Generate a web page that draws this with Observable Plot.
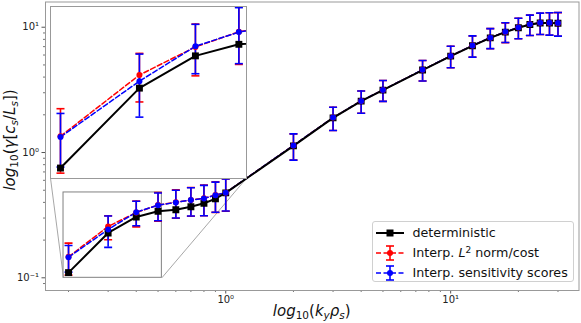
<!DOCTYPE html>
<html>
<head>
<meta charset="utf-8">
<script src="https://cdn.jsdelivr.net/npm/d3@7"></script>
<script src="https://cdn.jsdelivr.net/npm/@observablehq/plot@0.6"></script>
<style>
  body { margin: 0; background: #fff; }
  #wrap { position: relative; width: 581px; height: 323px; font-family: "DejaVu Sans", sans-serif; color: #111; }
  #main, #inset { position: absolute; }
  #main { left: 0; top: 0; }
  .lab { position: absolute; font-size: 15px; white-space: nowrap; line-height: 1.2; }
  .lab sub { font-size: 10.5px; vertical-align: -0.3em; line-height: 0; }
  .lab i { font-style: italic; }
  #legend { position: absolute; left: 371.5px; top: 221px; width: 202px; height: 61px; box-sizing: border-box;
            border: 1px solid #d0d0d0; border-radius: 3px; background: rgba(255,255,255,0.8); font-size: 12.7px; }
  .row { position: absolute; left: 0; height: 20px; display: flex; align-items: center; }
  .row svg { margin-left: 3px; margin-right: 9px; }
  .row sup { font-size: 9px; vertical-align: 0.45em; line-height: 0; }
</style>
</head>
<body>
<div id="wrap">
  <div id="main"></div>
  <div id="inset"></div>
  <div class="lab" id="xlab"><i>log</i><sub>10</sub>(<i>k</i><sub><i>y</i></sub><i>ρ</i><sub><i>s</i></sub>)</div>
  <div class="lab" id="ylab"><i>log</i><sub>10</sub>(<i>γ</i>[<i>c</i><sub><i>s</i></sub>/<i>L</i><sub><i>s</i></sub>])</div>
  <div id="legend"></div>
</div>
<script>
// ---------------- data ----------------
const kx = [0.2, 0.3, 0.4, 0.5, 0.6, 0.7, 0.8, 0.9, 1.0, 2, 3, 4, 5, 7.5, 10, 12.5, 15, 17.5, 20, 22.5, 25, 27.5, 30];
const detY = [0.11, 0.228, 0.306, 0.34, 0.349, 0.369, 0.393, 0.428, 0.476, 1.13, 1.89, 2.57, 3.15, 4.55, 5.88, 7.11, 8.22, 9.14, 9.9, 10.5, 10.8, 10.8, 10.75];
const l2Y = [0.147, 0.257, 0.332, 0.381, 0.401, 0.418, 0.431, 0.458, 0.478, 1.14, 1.9, 2.58, 3.16, 4.57, 5.9, 7.14, 8.24, 9.18, 9.94, 10.54, 10.84, 10.84, 10.78];
const l2Err = [0.042, 0.056, 0.077, 0.098, 0.102, 0.108, 0.118, 0.125, 0.138, 0.27, 0.4, 0.52, 0.6, 0.85, 1.15, 1.38, 1.5, 1.65, 1.85, 1.95, 2.1, 2.2, 2.3];
const sensY = [0.146, 0.243, 0.334, 0.38, 0.40, 0.417, 0.43, 0.457, 0.478, 1.14, 1.9, 2.58, 3.16, 4.57, 5.9, 7.15, 8.25, 9.2, 9.95, 10.55, 10.85, 10.85, 10.8];
const sensErr = [0.035, 0.068, 0.074, 0.095, 0.10, 0.106, 0.117, 0.123, 0.137, 0.27, 0.4, 0.52, 0.6, 0.85, 1.15, 1.38, 1.5, 1.65, 1.85, 1.95, 2.1, 2.2, 2.3];
const seriesNames = ["deterministic", "Interp. L² norm/cost", "Interp. sensitivity scores"];

// axis limits and ticks
const xLim = [0.158, 37.2];
const yLim = [0.0792, 15.9];
const insetXLim = [0.19, 0.52];
const insetYLim = [0.1, 0.48];
const xMajor = [1, 10];
const xMinor = [0.2, 0.3, 0.4, 0.5, 0.6, 0.7, 0.8, 0.9, 2, 3, 4, 5, 6, 7, 8, 9, 20, 30];
const yMajor = [0.1, 1, 10];
const yMinor = [0.09, 0.2, 0.3, 0.4, 0.5, 0.6, 0.7, 0.8, 0.9, 2, 3, 4, 5, 6, 7, 8, 9];

// ---------------- layout ----------------
const W = 581, H = 323;
const M = {left: 45, right: 2.5, top: 1.5, bottom: 33};
const INSET = {left: 50, top: 5.7, width: 196, height: 172};

const det = kx.map((x, i) => ({x, y: detY[i]}));
const l2 = kx.map((x, i) => ({x, y: l2Y[i], e: l2Err[i]}));
const sens = kx.map((x, i) => ({x, y: sensY[i], e: sensErr[i]}));

const sup = {"-1": "⁻¹", "0": "⁰", "1": "¹"};
const fmt = d => "10" + sup[String(Math.round(Math.log10(d)))];

const capSymbol = {
  draw(ctx, size) {
    const w = Math.sqrt(size / Math.PI);
    ctx.moveTo(-w, 0);
    ctx.lineTo(w, 0);
  }
};

const RED = "#ff0000", BLUE = "#0000ff";

function dataMarks(opts) {
  const c = opts || {};
  const bars = (data, color) => [
    Plot.ruleX(data, {x: "x", y1: d => d.y - d.e, y2: d => d.y + d.e, stroke: color, strokeWidth: 1.6, ...c}),
    Plot.dot(data, {x: "x", y: d => d.y + d.e, symbol: capSymbol, r: 4, fill: "none", stroke: color, strokeWidth: 1.6, ...c}),
    Plot.dot(data, {x: "x", y: d => d.y - d.e, symbol: capSymbol, r: 4, fill: "none", stroke: color, strokeWidth: 1.6, ...c})
  ];
  return [
    ...bars(l2, RED),
    ...bars(sens, BLUE),
    Plot.line(l2, {x: "x", y: "y", stroke: RED, strokeWidth: 1.5, strokeDasharray: "5,2.5", ...c}),
    Plot.line(sens, {x: "x", y: "y", stroke: BLUE, strokeWidth: 1.5, strokeDasharray: "5,2.5", ...c}),
    Plot.line(det, {x: "x", y: "y", stroke: "#000", strokeWidth: 2, ...c}),
    Plot.dot(det, {x: "x", y: "y", symbol: "square", r: 3.9, fill: "#000", stroke: "none", ...c}),
    Plot.dot(l2, {x: "x", y: "y", r: 3, fill: RED, stroke: "none", ...c}),
    Plot.dot(sens, {x: "x", y: "y", r: 3, fill: BLUE, stroke: "none", ...c})
  ];
}

// scales of the main plot, used to locate the inset corners in data space
const sx = Plot.scale({x: {type: "log", domain: xLim, range: [M.left, W - M.right]}});
const sy = Plot.scale({y: {type: "log", domain: yLim, range: [H - M.bottom, M.top]}});
const insetBottom = INSET.top + INSET.height;
const connectors = [
  {x1: insetXLim[0], y1: insetYLim[0], x2: sx.invert(INSET.left), y2: sy.invert(insetBottom)},
  {x1: insetXLim[1], y1: insetYLim[0], x2: sx.invert(INSET.left + INSET.width), y2: sy.invert(insetBottom)}
];

const main = Plot.plot({
  width: W, height: H,
  marginLeft: M.left, marginRight: M.right, marginTop: M.top, marginBottom: M.bottom,
  x: {type: "log", domain: xLim},
  y: {type: "log", domain: yLim},
  style: {fontFamily: "DejaVu Sans", fontSize: "10px", color: "#222", background: "white", overflow: "visible"},
  marks: [
    Plot.axisX(xMajor, {tickSize: 3.5, tickPadding: 2, tickFormat: fmt, label: null, stroke: "#555"}),
    Plot.axisX(xMinor, {tickSize: 2, tickFormat: () => "", label: null, stroke: "#777"}),
    Plot.axisY(yMajor, {tickSize: 3.5, tickPadding: 3, tickFormat: fmt, label: null, stroke: "#555"}),
    Plot.axisY(yMinor, {tickSize: 2, tickFormat: () => "", label: null, stroke: "#777"}),
    Plot.rect([{x1: insetXLim[0], x2: insetXLim[1], y1: insetYLim[0], y2: insetYLim[1]}],
      {x1: "x1", x2: "x2", y1: "y1", y2: "y2", fill: "none", stroke: "#808080", strokeWidth: 1}),
    Plot.link(connectors, {x1: "x1", y1: "y1", x2: "x2", y2: "y2", stroke: "#909090", strokeWidth: 0.8}),
    ...dataMarks({clip: true}),
    Plot.frame({stroke: "#999", strokeWidth: 1})
  ]
});
document.getElementById("main").appendChild(main);

const inset = Plot.plot({
  width: INSET.width, height: INSET.height,
  marginLeft: 0, marginRight: 0, marginTop: 0, marginBottom: 0,
  x: {type: "log", domain: insetXLim, axis: null},
  y: {type: "log", domain: insetYLim, axis: null},
  style: {background: "white", overflow: "visible"},
  marks: [
    Plot.frame({fill: "white", stroke: "none"}),
    ...dataMarks({clip: true}),
    Plot.frame({stroke: "#999", strokeWidth: 1})
  ]
});
const insetDiv = document.getElementById("inset");
insetDiv.style.left = INSET.left + "px";
insetDiv.style.top = INSET.top + "px";
insetDiv.appendChild(inset);

// axis labels
const xlab = document.getElementById("xlab");
xlab.style.left = ((M.left + W - M.right) / 2) + "px";
xlab.style.top = "302px";
xlab.style.transform = "translateX(-50%)";
const ylab = document.getElementById("ylab");
ylab.style.left = "10px";
ylab.style.top = "140px";
ylab.style.transform = "translate(-50%, -50%) rotate(-90deg)";

// legend
const legend = document.getElementById("legend");
const styles = [
  {color: "#000", dash: null, marker: "square", err: false},
  {color: RED, dash: "5,2.5", marker: "circle", err: true},
  {color: BLUE, dash: "5,2.5", marker: "circle", err: true}
];
seriesNames.forEach((name, i) => {
  const s = styles[i];
  const row = document.createElement("div");
  row.className = "row";
  row.style.top = (0.5 + i * 20) + "px";
  let g = `<line x1="0" x2="28" y1="10" y2="10" stroke="${s.color}" stroke-width="${s.dash ? 1.5 : 2}" ${s.dash ? `stroke-dasharray="${s.dash}"` : ""}/>`;
  if (s.err) g += `<line x1="14" x2="14" y1="3" y2="17" stroke="${s.color}" stroke-width="1.6"/><line x1="10" x2="18" y1="3" y2="3" stroke="${s.color}" stroke-width="1.6"/><line x1="10" x2="18" y1="17" y2="17" stroke="${s.color}" stroke-width="1.6"/>`;
  g += s.marker === "square" ? `<rect x="10.5" y="6.5" width="7" height="7" fill="${s.color}"/>` : `<circle cx="14" cy="10" r="3" fill="${s.color}"/>`;
  const label = name.replace("L²", "<i>L</i><sup>2</sup>");
  row.innerHTML = `<svg width="28" height="20">${g}</svg><span>${label}</span>`;
  legend.appendChild(row);
});
</script>
</body>
</html>
